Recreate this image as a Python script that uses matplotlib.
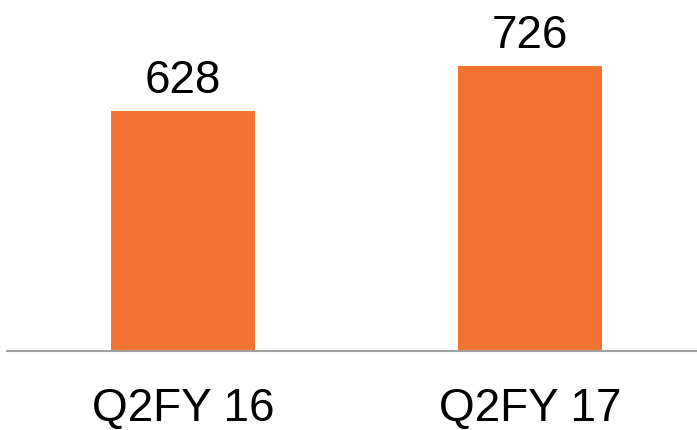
import matplotlib
matplotlib.use("Agg")
import matplotlib.pyplot as plt

# data
quarters = ["Q2FY 16", "Q2FY 17"]
values = [628, 726]

plt.rcParams['font.family'] = ['Liberation Sans', 'DejaVu Sans']

fig = plt.figure(figsize=(6.97, 4.30), dpi=100)
ax = fig.add_axes([7 / 697, 79 / 430, 690 / 697, 351 / 430])

bars = ax.bar(range(len(values)), values, width=0.415, color="#F47230", bottom=0)
ax.set_ylim(100, 872)
ax.set_xlim(-0.507, 1.481)

ax.bar_label(bars, labels=[str(v) for v in values], padding=6, fontsize=33)

ax.set_xticks(range(len(quarters)))
ax.set_xticklabels(quarters, fontsize=33)
ax.tick_params(axis="x", length=0, pad=26)
ax.set_yticks([])

for s in ["top", "right", "left"]:
    ax.spines[s].set_visible(False)
ax.spines["bottom"].set_color("#A0A0A0")
ax.spines["bottom"].set_linewidth(1.5)

fig.savefig("out.png", dpi=100)
